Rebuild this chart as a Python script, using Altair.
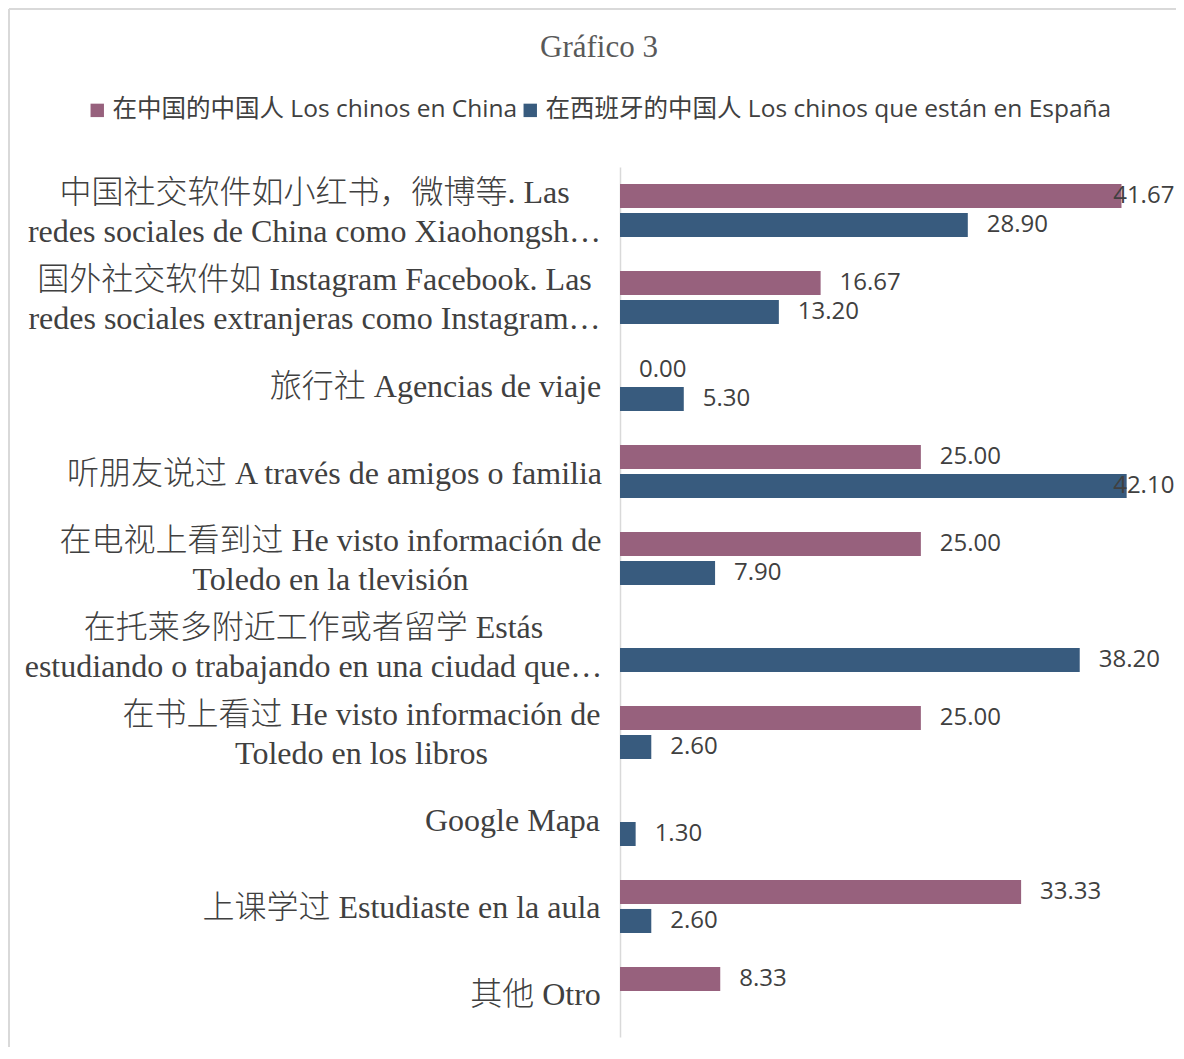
import altair as alt
import pandas as pd

categories = [
    "中国社交软件如小红书，微博等. Las|redes sociales de China como Xiaohongsh…",
    "国外社交软件如 Instagram Facebook.  Las|redes sociales extranjeras como Instagram…",
    "旅行社 Agencias de viaje",
    "听朋友说过 A través de amigos o familia",
    "在电视上看到过 He visto información de|Toledo en la tlevisión",
    "在托莱多附近工作或者留学 Estás|estudiando o trabajando en una ciudad que…",
    "在书上看过 He visto información de|Toledo en los libros",
    "Google Mapa",
    "上课学过 Estudiaste en la aula",
    "其他 Otro",
]
series = [
    "在中国的中国人 Los chinos en China",
    "在西班牙的中国人 Los chinos que están en España",
]
china = [41.67, 16.67, 0.00, 25.00, 25.00, None, 25.00, None, 33.33, 8.33]
spain = [28.90, 13.20, 5.30, 42.10, 7.90, 38.20, 2.60, 1.30, 2.60, None]
colors = ["#97617D", "#385B7E"]

# styling: half-width of each label block (labels are centred blocks)
label_half_widths = [286, 286, 165, 266, 270, 287, 239, 88, 199, 65]

rows = []
for s, vals in zip(series, [china, spain]):
    for c, v in zip(categories, vals):
        if v is not None:
            rows.append({"category": c, "series": s, "value": v})
df = pd.DataFrame(rows)

pad_conditions = [
    {"test": "datum.value === '" + c + "'", "value": 20 + h}
    for c, h in zip(categories, label_half_widths)
]

xscale = alt.Scale(domain=[0, 46.2], nice=False, zero=True)

y = alt.Y(
    "category:N",
    sort=categories,
    scale=alt.Scale(domain=categories, paddingInner=0.333, paddingOuter=0.167),
    title=None,
    axis=alt.Axis(
        domain=True,
        domainColor="#D9D9D9",
        domainWidth=1.5,
        ticks=False,
        tickSize=0,
        grid=False,
        labelExpr="split(datum.label, '|')",
        labelFont="Liberation Serif, Noto Sans CJK SC",
        labelFontSize=32,
        labelFontWeight=300,
        labelColor="#404040",
        labelLimit=1000,
        labelLineHeight=39,
        labelAlign="center",
        labelBaseline="middle",
        labelOffset={
            "condition": {"test": "indexof(datum.value, '|') >= 0", "value": -17.5},
            "value": 2,
        },
        labelPadding={"condition": pad_conditions, "value": 20},
    ),
)
yoff = alt.YOffset(
    "series:N",
    sort=series,
    scale=alt.Scale(domain=series, paddingInner=0.172, paddingOuter=0.086),
)

base = alt.Chart(df)

bars = base.mark_bar().encode(
    y=y,
    yOffset=yoff,
    x=alt.X("value:Q", scale=xscale, axis=None),
    color=alt.Color(
        "series:N",
        scale=alt.Scale(domain=series, range=colors),
        legend=alt.Legend(
            title=None,
            orient="none",
            legendX=-535,
            legendY=-69,
            direction="horizontal",
            symbolType="square",
            symbolSize=180,
            symbolStrokeWidth=0,
            labelFont="Open Sans, Noto Sans CJK SC",
            labelFontSize=24.5,
            labelColor="#404040",
            labelLimit=1000,
            columnPadding=0,
            labelOffset=3,
        ),
    ),
)

text = base.transform_calculate(lx="min(datum.value, 39.4)").mark_text(
    align="left", baseline="middle", dx=19, font="Open Sans", fontSize=24, color="#404040"
).encode(
    y=y,
    yOffset=yoff,
    x=alt.X("lx:Q", scale=xscale, axis=None),
    text=alt.Text("value:Q", format=".2f"),
)

frame_src = alt.Chart(pd.DataFrame({"k": [0]}))
frame_left = frame_src.mark_rule(color="#D9D9D9", strokeWidth=2).encode(
    x=alt.value(-611), y=alt.value(-158), y2=alt.value(900)
)
frame_top = frame_src.mark_rule(color="#D9D9D9", strokeWidth=2).encode(
    x=alt.value(-611), x2=alt.value(560), y=alt.value(-158)
)

chart = (
    alt.layer(frame_left, frame_top, bars, text)
    .properties(
        width=556,
        height=870,
        autosize=alt.AutoSizeParams(type="none"),
        padding={"left": 612, "top": 159, "right": 0, "bottom": 10},
        title=alt.Title(
            "Gráfico 3",
            font="Liberation Serif",
            fontSize=31,
            fontWeight="normal",
            color="#595959",
            anchor="middle",
            frame="group",
            dx=-299,
            dy=60,
        ),
        background="white",
    )
    .configure_view(stroke=None)
)

chart.save("out.html", embed_options={"renderer": "svg", "actions": False})
